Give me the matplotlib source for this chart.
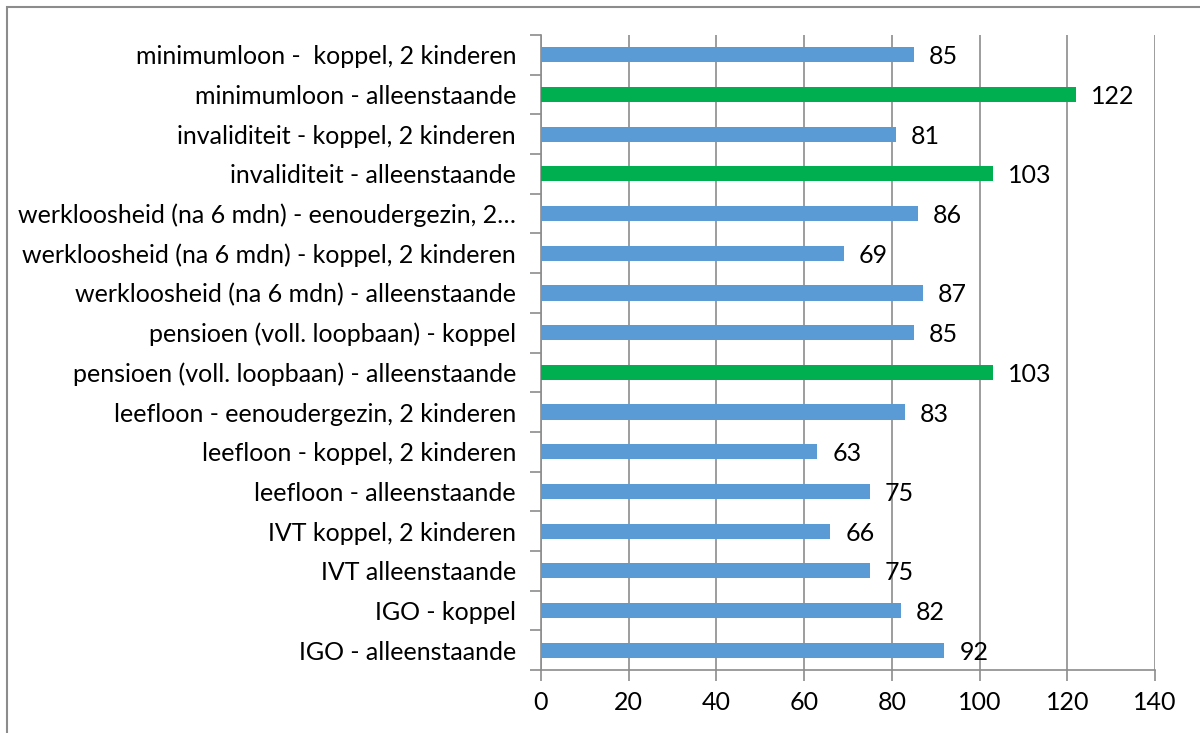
import matplotlib
matplotlib.use("Agg")
import matplotlib.pyplot as plt
from matplotlib.patches import Rectangle
import numpy as np

categories = [
    "IGO - alleenstaande",
    "IGO - koppel",
    "IVT alleenstaande",
    "IVT koppel, 2 kinderen",
    "leefloon - alleenstaande",
    "leefloon - koppel, 2 kinderen",
    "leefloon - eenoudergezin, 2 kinderen",
    "pensioen (voll. loopbaan) - alleenstaande",
    "pensioen (voll. loopbaan) - koppel",
    "werkloosheid (na 6 mdn) - alleenstaande",
    "werkloosheid (na 6 mdn) - koppel, 2 kinderen",
    "werkloosheid (na 6 mdn) - eenoudergezin, 2…",
    "invaliditeit - alleenstaande",
    "invaliditeit - koppel, 2 kinderen",
    "minimumloon - alleenstaande",
    "minimumloon -  koppel, 2 kinderen",
]
values = [92, 82, 75, 66, 75, 63, 83, 103, 85, 87, 69, 86, 103, 81, 122, 85]
highlight = [False, False, False, False, False, False, False, True, False,
             False, False, False, True, False, True, False]
xticks = [0, 20, 40, 60, 80, 100, 120, 140]

BLUE = "#5B9BD5"
GREEN = "#00B050"
GRID = "#8C8C8C"
FS = 18

plt.rcParams['font.family'] = ['Lato', 'DejaVu Sans']

fig = plt.figure(figsize=(12, 7.33), dpi=100)
ax = fig.add_axes([541/1200, 1-670/733, (1155-541)/1200, (670-35)/733])

y = np.arange(len(categories))
colors = [GREEN if h else BLUE for h in highlight]
ax.barh(y, values, height=0.38, color=colors, zorder=3)

for yi, v in zip(y, values):
    ax.text(v + 3.4, yi - 0.05, str(v), va='center', ha='left', fontsize=FS, color='black', zorder=4)

ax.set_xlim(0, 140)
ax.set_ylim(-0.5, len(categories) - 0.5)
ax.set_xticks(xticks)
ax.set_xticklabels([str(t) for t in xticks], fontsize=FS)
ax.set_yticks(np.arange(len(categories) + 1) - 0.5)
ax.set_yticklabels([])
ax.set_yticks(y, minor=True)
ax.set_yticklabels(categories, minor=True, fontsize=FS)
ax.tick_params(axis='y', which='minor', length=0, pad=18)
ax.tick_params(axis='y', which='major', length=8, color=GRID, width=1.2)
ax.tick_params(axis='x', which='major', length=8, color=GRID, width=1.2, pad=7)

ax.grid(axis='x', color=GRID, linewidth=1.2, zorder=0)
for side in ['top', 'right']:
    ax.spines[side].set_visible(False)
for side in ['left', 'bottom']:
    ax.spines[side].set_color(GRID)
    ax.spines[side].set_linewidth(1.2)

border = Rectangle((6.5/1200, -0.1), 1.2, 1 - 6.5/733 + 0.1, transform=fig.transFigure,
                   fill=False, edgecolor='#8C8C8C', linewidth=1.5, clip_on=False)
fig.patches.append(border)

fig.savefig("out.png", dpi=100)
